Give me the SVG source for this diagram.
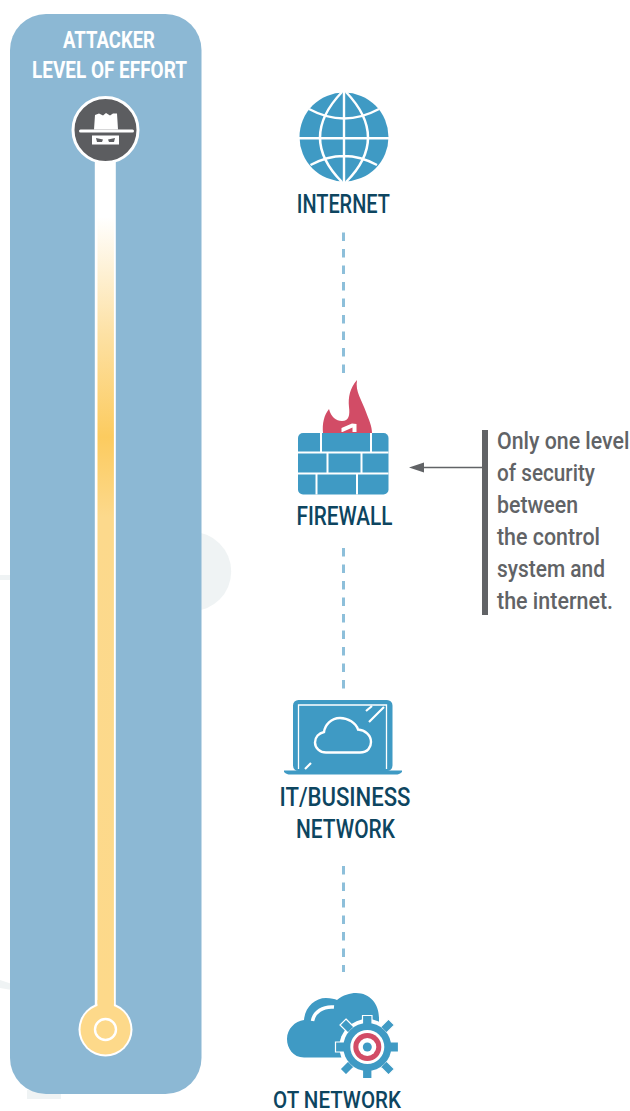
<svg xmlns="http://www.w3.org/2000/svg" width="630" height="1111" viewBox="0 0 630 1111">
<style>
.l{font-family:"Roboto","Liberation Sans",sans-serif;font-weight:500;font-size:25px;fill:#0d4560;text-anchor:middle}
.w{font-family:"Roboto","Liberation Sans",sans-serif;font-weight:700;font-size:23px;fill:#fff;text-anchor:middle}
.n{font-family:"Roboto","Liberation Sans",sans-serif;font-weight:500;font-size:24.500px;fill:#616366}
.b{fill:#3f9ac4}
.d{fill:none;stroke:#8dbfda;stroke-width:3;stroke-dasharray:8.500 8}
.wl{fill:none;stroke:#fff;stroke-width:2.400}
</style>
<defs>
<linearGradient id="g" x1="0" y1="165" x2="0" y2="1010" gradientUnits="userSpaceOnUse">
<stop offset="0" stop-color="#fff"/><stop offset=".0615" stop-color="#fff"/><stop offset=".2" stop-color="#fde1a4"/><stop offset=".322" stop-color="#fccb5f"/><stop offset=".417" stop-color="#fcd98c"/><stop offset="1" stop-color="#fdd98a"/>
</linearGradient>
</defs>
<g id="ghost" fill="#eff3f4">
<circle cx="191.500" cy="571.500" r="39.700"/>
<rect x="0" y="575" width="12" height="5"/>
<rect x="27" y="1090" width="34" height="9"/>
<path d="M0 980L12 984V990L0 988Z"/>
</g>
<g id="effort-panel">
<rect x="10" y="14" width="191.500" height="1080" rx="36" fill="#8cb8d4"/>
<text class="w" x="109" y="48" textLength="92" lengthAdjust="spacingAndGlyphs">ATTACKER</text>
<text class="w" x="109.500" y="78" textLength="155" lengthAdjust="spacingAndGlyphs">LEVEL OF EFFORT</text>
<rect x="94.800" y="150" width="21" height="870" fill="#fff"/>
<rect x="97.500" y="160" width="16.400" height="860" fill="url(#g)"/>
<circle cx="105.500" cy="1029.500" r="27" fill="#fff"/>
<circle cx="105.500" cy="1029.500" r="25" fill="#fdd98a"/>
<rect x="97.500" y="1000" width="16.400" height="12" fill="#fdd98a"/>
<circle cx="105.500" cy="1029.500" r="10.500" fill="none" stroke="#fff" stroke-width="2.400"/>
<g id="attacker">
<circle cx="105.500" cy="130" r="32.500" fill="#5c5d60" stroke="#fff" stroke-width="3"/>
<path d="M95 115L99 113.500L103 115.500L106 113L110 115.500L113 113.500L117 113.500L118 129.500H94Z" fill="#fff"/>
<rect x="79" y="129.500" width="55" height="3" rx="1.500" fill="#fff"/>
<rect x="92" y="135.500" width="27" height="9" fill="#fff"/>
<path d="M96 138L103 139.500L102 142H97ZM115 138L108 139.500L109 142H114Z" fill="#5c5d60"/>
</g>
</g>
<g id="connectors">
<path class="d" d="M343.500 232.500V373"/>
<path class="d" d="M343.500 548V689"/>
<path class="d" d="M343.500 866V972"/>
<path d="M484 467.500H422" fill="none" stroke="#616366" stroke-width="1.500"/>
<path d="M409 467.500L424 462.500V472.500Z" fill="#616366"/>
</g>
<g id="internet">
<circle class="b" cx="344" cy="137" r="44.500"/>
<g class="wl">
<path d="M344 92V182M299 138.300H389M309 109Q344 128 379 109M310.500 165Q344 147 377 165"/>
<path d="M342 92Q298 138 342 182M346 92Q390 138 346 182"/>
</g>
<text class="l" x="343.300" y="212.500" textLength="93" lengthAdjust="spacingAndGlyphs">INTERNET</text>
</g>
<g id="firewall">
<path d="M357 380C355 392 362 400 366 412C369 420 372 426 372 433H323C322 424 324 415 329 409C331 417 336 421 342 421C349 421 350 415 349 407C348 397 350 388 357 380Z" fill="#d24c66"/>
<path d="M341.500 432V428L352 423.500L356.500 424V432H352.500V427.500L342.500 432Z" fill="#fff"/>
<rect class="b" x="298" y="433" width="90.500" height="61.500" rx="5"/>
<path class="wl" style="stroke-width:2" d="M298 452.500H388.500M298 473.500H388.500M321 433V452.500M371 433V452.500M327.500 452.500V473.500M361.500 452.500V473.500M316.500 473.500V494.500M357 473.500V494.500"/>
<text class="l" x="344.500" y="525" textLength="96" lengthAdjust="spacingAndGlyphs">FIREWALL</text>
</g>
<g id="it-business">
<rect x="294.500" y="701.500" width="96.500" height="68" rx="4" fill="#3f9ac4" stroke="#3f9ac4" stroke-width="3"/>
<path d="M298.500 769V705H386.500V769" fill="none" stroke="#fff" stroke-width="1.300"/>
<path class="wl" style="stroke-width:2.200" d="M366 711L372 706M369 722L384 707M305 769L311 763"/>
<path class="wl" d="M326 752.500H360C368 752.500 371 747 371 742C371 735 365 730 358 729.500C356 723 348 718 340 718C331 718 325 725 324 732C319 733 315 737 315 742.500C315 748 320 752.500 326 752.500Z"/>
<path class="b" d="M284 770.500H402V772C400 774 398 774.500 396 774.500H290C288 774.500 286 774 284 772Z"/>
<text class="l" x="345" y="805.500" textLength="131" lengthAdjust="spacingAndGlyphs">IT/BUSINESS</text>
<text class="l" x="345.500" y="837.500" textLength="99" lengthAdjust="spacingAndGlyphs">NETWORK</text>
</g>
<g id="ot-network">
<path class="b" d="M304 1057.500C293 1057.500 287 1048 287 1039C287 1029 295 1021 304 1020C305 1007 315 998 326 998C331 998 335 999 337 1000C343 995 350 993 356 993C370 993 379 1004 379 1018V1057.500Z"/>
<path d="M312.500 1021C314 1012 323 1006 334 1007" fill="none" stroke="#fff" stroke-width="3.500"/>
<circle cx="367.300" cy="1047" r="28" fill="#fff"/>
<g fill="#3f9ac4" stroke="#fff" stroke-width="1.200">
<path d="M362.500 1015.500H372V1025H362.500ZM362.500 1069H372V1078.500H362.500ZM335.500 1042H345V1052H335.500ZM389.500 1042H398.500V1052H389.500ZM346 1019L354 1027L348 1033L340 1025ZM388.500 1019L394.500 1025L386.500 1033L380.500 1027ZM340 1069L348 1061L354 1067L346 1075ZM380.500 1067L386.500 1061L394.500 1069L388.500 1075Z"/>
</g>
<circle class="b" cx="367.300" cy="1047" r="24"/>
<circle cx="367.300" cy="1047" r="17" fill="#fff"/>
<circle cx="367.300" cy="1047" r="14" fill="#d24c66"/>
<circle cx="367.300" cy="1047" r="9" fill="#fff"/>
<circle class="b" cx="367.300" cy="1047" r="4.500"/>
<text class="l" x="337" y="1108" textLength="128" lengthAdjust="spacingAndGlyphs" style="font-size:24px">OT NETWORK</text>
</g>
<g id="note">
<rect x="482" y="430" width="6" height="185" fill="#616366"/>
<text class="n" transform="translate(497 449) scale(.87 1)" x="0" y="0">Only one level</text>
<text class="n" x="497" y="481" textLength="98" lengthAdjust="spacingAndGlyphs">of security</text>
<text class="n" x="497" y="513" textLength="81" lengthAdjust="spacingAndGlyphs">between</text>
<text class="n" x="497" y="545" textLength="103" lengthAdjust="spacingAndGlyphs">the control</text>
<text class="n" x="497" y="577" textLength="108" lengthAdjust="spacingAndGlyphs">system and</text>
<text class="n" x="497" y="609" textLength="116" lengthAdjust="spacingAndGlyphs">the internet.</text>
</g>
</svg>
